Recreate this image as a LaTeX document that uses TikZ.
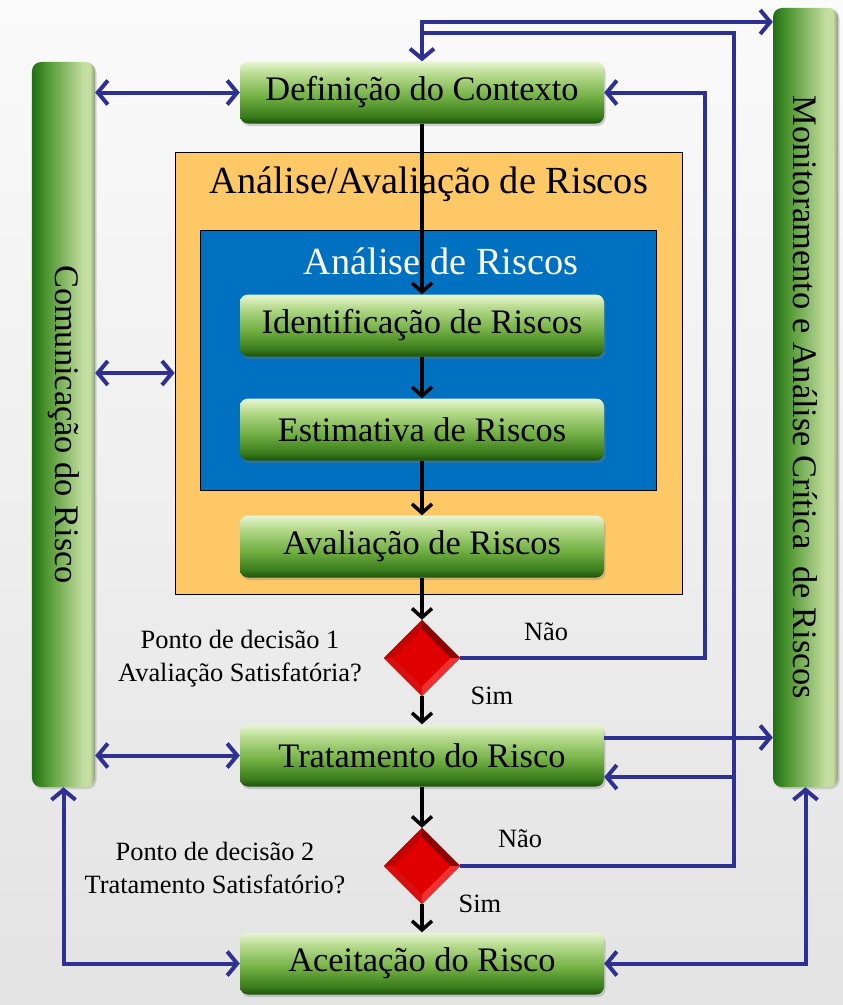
\documentclass[tikz,border=0pt]{standalone}
\usepackage{fontspec}
\setmainfont{Liberation Serif}
\usetikzlibrary{arrows.meta,shapes.geometric,shadows,calc}

% palette
\definecolor{flowblue}{HTML}{2E3192}
\definecolor{orangebox}{HTML}{FDC865}
\definecolor{bluebox}{HTML}{0070C0}
\definecolor{gA}{HTML}{1A520A}
\definecolor{gB}{HTML}{3A7C1C}
\definecolor{gC}{HTML}{70AE42}
\definecolor{gD}{HTML}{B4D98A}
\definecolor{gE}{HTML}{E8F5D3}
\definecolor{bA}{HTML}{1F7012}
\definecolor{bB}{HTML}{559A36}
\definecolor{bC}{HTML}{C4DEA2}
\definecolor{bD}{HTML}{8E9C80}
\definecolor{rNW}{HTML}{C40000}
\definecolor{rNE}{HTML}{8A0000}
\definecolor{rSE}{HTML}{F03030}
\definecolor{rSW}{HTML}{D81010}
\definecolor{rC}{HTML}{E00000}

% process steps: light on top, dark green at the bottom
\pgfdeclareverticalshading{stepshade}{100bp}{color(0bp)=(gA); color(25bp)=(gA); color(31bp)=(gB); color(46bp)=(gC); color(64bp)=(gD); color(75bp)=(gE); color(100bp)=(gE)}
% side bars: dark green on the left, pale on the right
\pgfdeclarehorizontalshading{barshade}{100bp}{color(0bp)=(bA); color(25bp)=(bA); color(38bp)=(bB); color(66bp)=(bC); color(71bp)=(bC); color(75bp)=(bD); color(100bp)=(bD)}

\begin{document}
\begin{tikzpicture}[x=1bp,y=-1bp,
  stepbox/.style={rectangle, rounded corners=8bp, shading=stepshade,
    minimum width=364bp, minimum height=62bp, inner sep=0pt,
    drop shadow={shadow xshift=1.5bp, shadow yshift=-2.5bp, opacity=0.35},
    font=\fontsize{34.5}{40}\selectfont},
  sidebar/.style={rectangle, rounded corners=9bp, shading=barshade, inner sep=0pt,
    drop shadow={shadow xshift=1.5bp, shadow yshift=-2bp, opacity=0.3}},
  bartext/.style={rotate=-90, font=\fontsize{34.5}{40}\selectfont},
  decision/.style={diamond, fill=rC, minimum width=76bp, minimum height=76bp, inner sep=0pt},
  flow/.style={draw=black, line width=3.5bp, -{Straight Barb[length=9bp,width=20bp]}},
  link/.style={draw=flowblue, line width=4bp},
  lt/.tip={Straight Barb[length=10bp,width=24bp]},
  small/.style={font=\fontsize{26.5}{33}\selectfont, align=center},
  title/.style={font=\fontsize{38.5}{44}\selectfont}]

% backdrop
\shade[top color=white!98!black, bottom color=white!89!black] (0,0) rectangle (843,1005);
\useasboundingbox (0,0) rectangle (843,1005);

% side bars
\node[sidebar, minimum width=63bp, minimum height=725bp] (com) at (63.5,424.5) {};
\node[sidebar, minimum width=65bp, minimum height=779bp] (mon) at (805.5,397.5) {};
\node[bartext] (comtxt) at (com.center) {Comunicação do Risco};
\node[bartext] (montxt) at (mon.center) {Monitoramento e Análise Crítica\ \ de Riscos};

% analysis / evaluation frames
\node[draw=black, line width=0.8bp, fill=orangebox, minimum width=507bp, minimum height=442bp, inner sep=0pt] (aa) at (428.5,373) {};
\node[title] (aatitle) at (429,184) {Análise/Avaliação de Riscos};
\node[draw=black, line width=0.8bp, fill=bluebox, minimum width=456bp, minimum height=260bp, inner sep=0pt] (ar) at (428,360) {};
\node[title, text=white] (artitle) at (441,261) {Análise de Riscos};

% process steps
\node[stepbox] (def)   at (422,92.5)  {Definição do Contexto};
\node[stepbox] (ident) at (422,325.5) {Identificação de Riscos};
\node[stepbox] (est)   at (422,429.5) {Estimativa de Riscos};
\node[stepbox] (aval)  at (422,546.5) {Avaliação de Riscos};
\node[stepbox] (trat)  at (422,755.5) {Tratamento do Risco};
\node[stepbox] (acc)   at (422,963.5) {Aceitação do Risco};

% decision points with bevelled faces
\node[decision] (d1) at (422,658) {};
\node[decision] (d2) at (422,866) {};
\foreach \d in {d1,d2}{
  \coordinate (\d n) at ($(\d.center)!0.74!(\d.north)$);
  \coordinate (\d e) at ($(\d.center)!0.74!(\d.east)$);
  \coordinate (\d s) at ($(\d.center)!0.74!(\d.south)$);
  \coordinate (\d w) at ($(\d.center)!0.74!(\d.west)$);
  \fill[rNW] (\d.north) -- (\d.west) -- (\d w) -- (\d n) -- cycle;
  \fill[rNE] (\d.north) -- (\d.east) -- (\d e) -- (\d n) -- cycle;
  \fill[rSE] (\d.south) -- (\d.east) -- (\d e) -- (\d s) -- cycle;
  \fill[rSW] (\d.south) -- (\d.west) -- (\d w) -- (\d s) -- cycle;
  \fill[rC] (\d n) -- (\d e) -- (\d s) -- (\d w) -- cycle;
}

% routing points of the feedback lines
\coordinate (topin)   at (422,22);
\coordinate (toprt)   at (734,33);
\coordinate (loop1)   at (705,92.5);
\coordinate (tratin)  at (734,777);
\coordinate (tratout) at ([yshift=18bp]trat.east);

% communication links
\draw[link, lt-lt] (com.east |- def.west) -- (def.west);
\draw[link, lt-lt] (com.east |- aa.west) -- (aa.west);
\draw[link, lt-lt] (com.east |- trat.west) -- (trat.west);
\draw[link, lt-lt] (acc.west) -| (com.south);

% monitoring links
\draw[link, lt-lt] (def.north) |- (mon.west |- topin);
\draw[link] (d2.east) -| (toprt) -- (toprt -| def.north);
\draw[link, -lt] (tratin) -- (trat.east |- tratin);
\draw[link, -lt] (tratout) -- (mon.west |- tratout);
\draw[link, -lt] (d1.east) -| (loop1) -- (def.east);
\draw[link, lt-lt] (acc.east) -| (mon.south);

% main flow
\draw[flow] (def.south) -- (ident.north);
\draw[flow] (ident.south) -- (est.north);
\draw[flow] (est.south) -- (aval.north);
\draw[flow] (aval.south) -- (d1.north);
\draw[flow] (d1.south) -- (trat.north);
\draw[flow] (trat.south) -- (d2.north);
\draw[flow] (d2.south) -- (acc.north);

% decision labels
\node[small] (q1) at (240,659) {Ponto de decisão 1\\Avaliação Satisfatória?};
\node[small] (q2) at (215,868) {Ponto de decisão 2\\Tratamento Satisfatório?};
\node[small] (no1)  at (546,632) {Não};
\node[small] (yes1) at (492,696) {Sim};
\node[small] (no2)  at (520,839) {Não};
\node[small] (yes2) at (480,904) {Sim};
\end{tikzpicture}
\end{document}
